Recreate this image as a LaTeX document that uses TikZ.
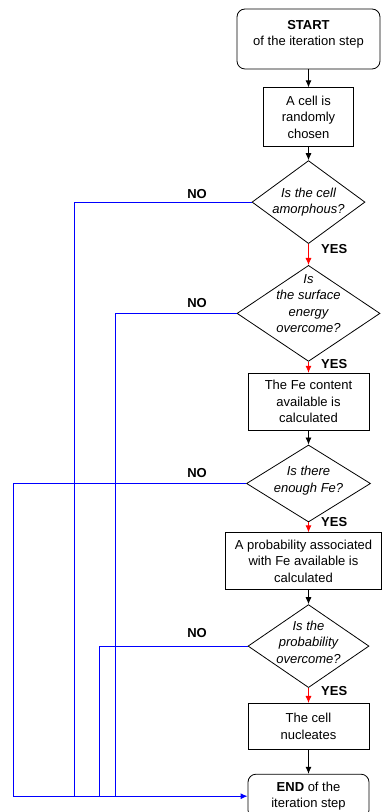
\documentclass[tikz,border=0pt]{standalone}
\usepackage{fontspec}
\setmainfont{Liberation Sans}
\usepackage{tikz}
\usetikzlibrary{shapes.geometric,positioning,arrows.meta,calc}
\newcommand{\txtfont}{\fontsize{13}{16.5}\selectfont}
\begin{document}
\begin{tikzpicture}[
x=1pt,y=1pt,
line width=0.8pt,
proc/.style={
  draw,
  inner sep=2pt,
  align=center,
  font=\txtfont
},
term/.style={
  proc,
  rounded corners=8pt
},
test/.style={
  draw,
  diamond,
  inner sep=0pt
},
ask/.style={
  align=center,
  font=\txtfont\itshape
},
ans/.style={
  font=\txtfont\bfseries
},
flow/.style={-{Latex[length=7pt,width=6pt]}},
yesline/.style={flow,draw=red,fill=red},
noline/.style={draw=blue,line width=1pt}
]
\useasboundingbox (0,0) rectangle (382,812);
\node[term, minimum width=143pt, minimum height=60pt] at (308.5,773)
  (start) {\textbf{START}\\of the iteration step\\[-4pt]~};
\node[proc, minimum width=90pt, minimum height=59pt, below=18pt of start]
  (choose) {A cell is\\randomly\\chosen};
\node[test, minimum width=113pt, minimum height=83pt, below=13pt of choose,
  label={[ask]center:Is the cell\\amorphous?}]
  (amorph) {};
\node[test, minimum width=143pt, minimum height=96pt, below=21pt of amorph,
  label={[ask,yshift=10pt]center:Is\\the surface\\energy\\overcome?}]
  (surf) {};
\node[proc, minimum width=121pt, minimum height=57pt, below=11pt of surf]
  (feco) {The Fe content\\available is\\calculated};
\node[test, minimum width=124pt, minimum height=77pt, below=14pt of feco,
  label={[ask,yshift=3pt]center:Is there\\enough Fe?}]
  (enough) {};
\node[proc, minimum width=156pt, minimum height=57pt, below=10pt of enough, xshift=-5pt]
  (prob) {A probability associated\\with Fe available is\\calculated};
\node[test, minimum width=121pt, minimum height=83pt, below=14pt of prob, xshift=5pt,
  label={[ask,yshift=4pt]center:Is the\\probability\\overcome?}]
  (probo) {};
\node[proc, minimum width=121pt, minimum height=46pt, below=15pt of probo]
  (nucl) {The cell\\nucleates};
\node[term, minimum width=121pt, minimum height=44pt, below=24pt of nucl]
  (end) {\textbf{END} of the\\iteration step};

\coordinate (laneF) at (13,0);
\coordinate (laneA) at (74,0);
\coordinate (laneP) at (99,0);
\coordinate (laneS) at (115,0);
\coordinate (labx) at (197,0);

\draw[flow] (start) -- (choose);
\draw[flow] (choose) -- (amorph);
\draw[yesline] (amorph) -- (surf);
\draw[yesline] (surf) -- (feco);
\draw[flow] (feco) -- (enough);
\draw[yesline] (enough.south) -- (enough.south |- prob.north);
\draw[flow] (probo.north |- prob.south) -- (probo.north);
\draw[yesline] (probo) -- (nucl);
\draw[flow] (nucl) -- (end);

\node[ans, anchor=west] at ([xshift=9pt,yshift=-5pt]amorph.south) (yesA) {YES};
\node[ans, anchor=west] at ([xshift=9pt,yshift=-2pt]surf.south) (yesS) {YES};
\node[ans, anchor=west] at ([xshift=9pt,yshift=0pt]enough.south) (yesF) {YES};
\node[ans, anchor=west] at ([xshift=9pt,yshift=-3pt]probo.south) (yesP) {YES};

\node[ans] at ([yshift=8pt]labx |- amorph.west) (noA) {NO};
\node[ans] at ([yshift=10pt]labx |- surf.west) (noS) {NO};
\node[ans] at ([yshift=10pt]labx |- enough.west) (noF) {NO};
\node[ans] at ([yshift=13pt]labx |- probo.west) (noP) {NO};

\draw[noline] (amorph.west) -| (laneA |- end.west);
\draw[noline] (surf.west) -| (laneS |- end.west);
\draw[noline] (enough.west) -| (laneF |- end.west);
\draw[noline] (probo.west) -| (laneP |- end.west);
\draw[noline,flow,fill=blue] (laneF |- end.west) -- (end.west);
\end{tikzpicture}
\end{document}
